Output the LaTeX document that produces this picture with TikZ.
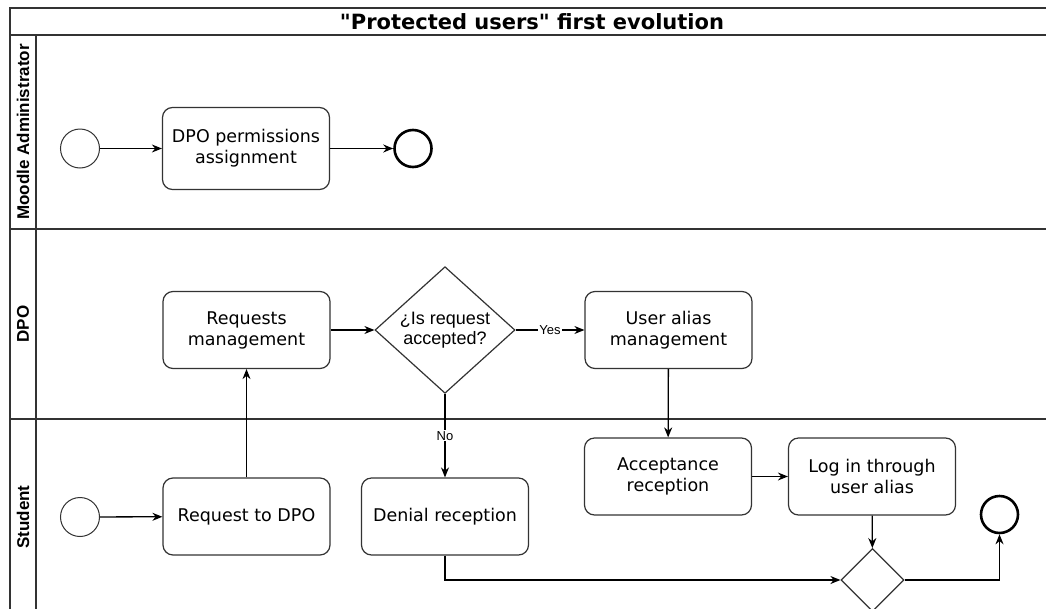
\documentclass[tikz,border=0pt]{standalone}
\usepackage{fontspec}
\usetikzlibrary{shapes.geometric,arrows.meta}
\newfontfamily\dvsans{DejaVu Sans}
\newfontfamily\libsans{Liberation Sans}
\tikzset{
  lane/.style={draw=black!80, line width=1.6pt},
  task/.style={draw=black!80, line width=1.2pt, rounded corners=10pt, minimum width=167pt, minimum height=77pt, align=center, inner sep=2pt,
    font=\dvsans\fontsize{17.5pt}{21pt}\selectfont},
  gate/.style={draw=black!80, line width=1.2pt, shape=diamond, inner sep=0pt},
  startev/.style={draw=black!80, line width=1pt, circle, minimum size=39pt, inner sep=0pt},
  endev/.style={draw=black, line width=2.6pt, circle, minimum size=37pt, inner sep=0pt},
  flow/.style={draw=black, line width=1.3pt, -{Stealth[length=10pt,width=8pt]}},
  lanelabel/.style={rotate=90, font=\libsans\bfseries\fontsize{17pt}{20pt}\selectfont},
  flowlabel/.style={fill=white, inner sep=1pt, font=\libsans\fontsize{13pt}{15pt}\selectfont}
}
\begin{document}
\begin{tikzpicture}[x=1pt,y=-1pt]
\path[use as bounding box] (0,0) rectangle (1046,608);
\clip (0,0) rectangle (1046,608);
% frame and lanes
\draw[lane] (10,8) rectangle (1054,640);
\draw[lane] (10,35) -- (1054,35);
\draw[lane] (10,229) -- (1054,229);
\draw[lane] (10,419) -- (1054,419);
\draw[lane] (36,35) -- (36,640);
\node[font=\dvsans\bfseries\fontsize{21pt}{24pt}\selectfont] (title) at (532,21.5) {"Protected users" first evolution};
\node[lanelabel] (l1) at (23,132) {Moodle Administrator};
\node[lanelabel] (l2) at (23,324) {DPO};
\node[lanelabel] (l3) at (23,517) {Student};
% Moodle admin lane
\node[startev] (s1) at (80,148.5) {};
\node[task, minimum height=82pt] (dpoperm) at (246,148.5) {DPO permissions\\assignment};
\node[endev] (e1) at (413,148.5) {};
% DPO lane
\node[task] (reqm) at (246.5,330) {Requests\\management};
\node[gate, minimum width=140pt, minimum height=119pt, font=\libsans\fontsize{18pt}{20.5pt}\selectfont, align=center] (dec) at (445,330) {¿Is request\\accepted?};
\node[task] (alias) at (668.5,330) {User alias\\management};
% Student lane
\node[startev] (s2) at (80,517) {};
\node[task] (req) at (246.5,516.5) {Request to DPO};
\node[task] (deny) at (445,516.5) {Denial reception};
\node[task] (acc) at (668,476.5) {Acceptance\\reception};
\node[task] (login) at (872,476.5) {Log in through\\user alias};
\node[gate, minimum width=63pt, minimum height=63pt] (g2) at (872.5,580) {};
\node[endev] (e2) at (999.5,514.5) {};
% flows
\draw[flow] (s1) -- (dpoperm);
\draw[flow] (dpoperm) -- (e1);
\draw[flow] (s2) -- (req);
\draw[flow] (req) -- (reqm);
\draw[flow] (reqm) -- (dec);
\draw[flow] (dec) -- node[flowlabel] (yes) {Yes} (alias);
\draw[flow] (dec) -- node[flowlabel, pos=0.5] (no) {No} (deny);
\draw[flow] (alias) -- (acc);
\draw[flow] (acc) -- (login);
\draw[flow] (login) -- (g2);
\draw[flow] (deny.south) |- (g2.west);
\draw[flow] (g2.east) -| (e2.south);
\end{tikzpicture}
\end{document}
